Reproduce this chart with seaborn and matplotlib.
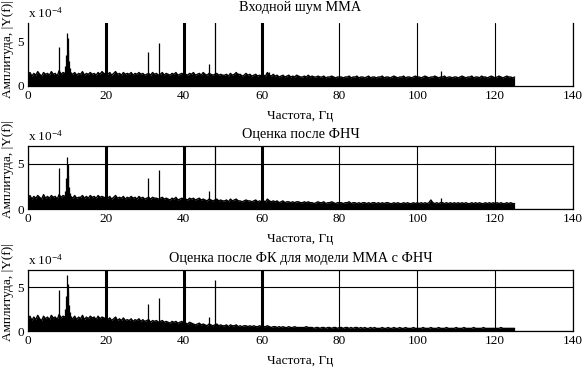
import numpy as np
import pandas as pd
import matplotlib
matplotlib.use("Agg")
import matplotlib.pyplot as plt
import seaborn as sns

# ---------------- data (amplitudes in units of 1e-4) ----------------
titles = ["Входной шум ММА", "Оценка после ФНЧ", "Оценка после ФК для модели ММА с ФНЧ"]
xlabel = "Частота, Гц"
ylabel = "Амплитуда, |Y(f)|"
x_ticks = [0, 20, 40, 60, 80, 100, 120, 140]
y_ticks = [0, 5]

# noise floor, tenths of 1e-4, sampled every 0.5 Hz from 0 to 125 Hz
noise_in = [
    13, 15, 11, 14, 12, 16, 13, 11, 15, 13, 14, 12, 16, 13, 14, 11, 17, 13, 15, 14, 16,
    17, 14, 13, 15, 12, 14, 13, 16, 12, 14, 13, 15, 13, 14, 12, 15, 13, 16, 14, 13,
    13, 15, 12, 14, 16, 13, 14, 12, 15, 13, 14, 13, 15, 12, 14, 13, 15, 13, 14, 12,
    13, 14, 12, 15, 13, 14, 12, 13, 15, 12, 14, 13, 12, 14, 13, 15, 12, 13, 14, 13,
    13, 12, 14, 13, 15, 12, 13, 14, 12, 15, 13, 12, 14, 13, 12, 13, 14, 12, 13, 12,
    12, 13, 11, 14, 12, 13, 15, 12, 13, 11, 12, 14, 12, 13, 11, 12, 13, 11, 12, 11,
    12, 11, 15, 12, 11, 13, 11, 12, 10, 11, 12, 10, 11, 12, 10, 11, 10, 12, 11, 10,
    10, 11, 10, 12, 10, 11, 10, 10, 11, 10, 10, 11, 9, 10, 10, 11, 10, 9, 10, 10,
    10, 9, 10, 10, 11, 9, 10, 10, 11, 9, 10, 10, 9, 10, 11, 9, 10, 10, 9, 10,
    10, 11, 9, 10, 10, 9, 10, 11, 10, 9, 10, 10, 11, 9, 10, 10, 9, 10, 11, 10,
    10, 9, 10, 11, 10, 9, 10, 10, 11, 10, 9, 10, 10, 11, 9, 10, 10, 9, 10, 10,
    9, 10, 11, 10, 9, 10, 10, 11, 9, 10, 10, 9, 11, 10, 10, 9, 10, 11, 10, 9,
    10, 11, 10, 9, 10, 11, 10, 10, 9, 10,
]
noise_lpf = [
    12, 15, 11, 14, 12, 15, 13, 11, 16, 12, 14, 12, 15, 13, 14, 11, 16, 13, 15, 14, 16,
    16, 14, 12, 15, 12, 13, 13, 15, 12, 14, 12, 15, 13, 14, 12, 15, 13, 14, 13, 12,
    12, 14, 11, 13, 15, 12, 13, 12, 14, 11, 13, 12, 14, 12, 13, 11, 14, 12, 13, 11,
    12, 13, 11, 13, 12, 12, 11, 12, 13, 11, 12, 11, 10, 12, 11, 13, 10, 11, 12, 11,
    11, 10, 12, 11, 12, 10, 11, 12, 10, 11, 10, 9, 11, 10, 9, 10, 11, 9, 10, 9,
    9, 10, 8, 11, 9, 10, 11, 9, 9, 8, 9, 10, 9, 9, 8, 9, 10, 8, 9, 8,
    9, 8, 11, 9, 8, 9, 8, 9, 7, 8, 9, 7, 8, 8, 7, 8, 7, 8, 8, 7,
    7, 8, 7, 8, 7, 7, 6, 7, 8, 7, 7, 8, 6, 7, 7, 8, 7, 6, 7, 7,
    7, 6, 7, 7, 8, 6, 7, 7, 6, 7, 6, 7, 7, 6, 7, 6, 7, 7, 6, 7,
    6, 7, 6, 7, 7, 6, 6, 7, 6, 7, 6, 6, 7, 6, 7, 6, 6, 7, 6, 7,
    6, 7, 6, 7, 6, 7, 10, 7, 6, 7, 6, 7, 7, 6, 7, 6, 7, 6, 7, 6,
    7, 6, 7, 6, 7, 6, 6, 7, 6, 7, 6, 7, 6, 6, 7, 6, 7, 6, 7, 6,
    7, 6, 7, 6, 6, 7, 6, 7, 6, 6,
]
noise_kf = [
    14, 17, 12, 16, 13, 18, 14, 12, 17, 14, 16, 13, 18, 15, 16, 13, 19, 15, 17, 16, 18,
    18, 15, 14, 17, 13, 16, 14, 18, 13, 16, 14, 17, 15, 16, 13, 17, 14, 16, 15, 14,
    13, 15, 12, 14, 16, 12, 14, 12, 15, 12, 13, 12, 14, 11, 13, 12, 14, 11, 13, 11,
    12, 13, 10, 12, 11, 12, 10, 11, 12, 10, 11, 10, 9, 11, 10, 11, 9, 10, 11, 9,
    9, 8, 10, 9, 8, 7, 8, 9, 7, 8, 7, 6, 8, 7, 6, 7, 8, 6, 7, 6,
    6, 7, 5, 7, 6, 6, 7, 5, 6, 5, 6, 6, 5, 6, 5, 6, 5, 5, 6, 5,
    5, 5, 6, 5, 4, 5, 5, 4, 5, 4, 5, 4, 4, 5, 4, 4, 5, 4, 4, 4,
    4, 4, 5, 4, 4, 4, 3, 4, 4, 3, 4, 4, 3, 4, 4, 3, 4, 4, 3, 4,
    4, 3, 4, 4, 3, 4, 3, 4, 4, 3, 4, 3, 4, 3, 3, 4, 3, 4, 3, 3,
    3, 4, 3, 3, 4, 3, 3, 4, 3, 3, 4, 3, 3, 4, 3, 3, 3, 4, 3, 3,
    3, 3, 4, 3, 3, 3, 4, 3, 3, 3, 4, 3, 3, 3, 4, 3, 3, 3, 3, 4,
    3, 3, 3, 4, 3, 3, 3, 3, 4, 3, 3, 3, 3, 4, 3, 3, 3, 3, 3, 3,
    3, 3, 4, 3, 3, 3, 3, 3, 3, 3,
]

# narrow spectral lines (frequency Hz, amplitude 1e-4); values above 7 are clipped
spike_f_in = [8.0, 9.6, 9.8, 10.0, 10.2, 10.4, 10.6, 10.8, 11.0, 20.0, 30.8, 33.7, 40.0, 46.5, 48.0, 54.0, 60.0, 62.0, 106.0]
spike_a_in = [4.3, 2.2, 3.5, 5.9, 5.3, 4.0, 2.8, 2.0, 1.6, 9.0, 3.8, 4.8, 9.0, 2.5, 9.0, 1.5, 9.0, 1.6, 1.7]
spike_f_lpf = [8.0, 9.6, 9.8, 10.0, 10.2, 10.4, 10.6, 10.8, 20.0, 30.8, 33.7, 40.0, 46.5, 48.0, 60.0, 106.0]
spike_a_lpf = [4.6, 2.0, 3.5, 5.8, 5.0, 3.8, 2.5, 1.8, 9.0, 3.5, 4.3, 9.0, 2.0, 9.0, 9.0, 1.2]
spike_f_kf = [8.0, 9.6, 9.8, 10.0, 10.2, 10.4, 10.6, 10.8, 11.0, 20.0, 30.8, 33.7, 40.0, 46.5, 48.0, 60.0]
spike_a_kf = [4.7, 2.5, 4.0, 6.4, 5.4, 4.5, 3.0, 2.2, 1.7, 9.0, 3.1, 3.8, 9.0, 1.6, 5.8, 9.0]

noises = [noise_in, noise_lpf, noise_kf]
spikes = [(spike_f_in, spike_a_in), (spike_f_lpf, spike_a_lpf), (spike_f_kf, spike_a_kf)]

# ---------------- style / layout ----------------
sns.set_theme(style="white")
plt.rcParams["font.family"] = ["Liberation Serif", "DejaVu Serif"]
plt.rcParams["mathtext.fontset"] = "custom"
plt.rcParams["mathtext.rm"] = "Liberation Serif"
plt.rcParams["mathtext.it"] = "Liberation Serif"

W, H = 585, 367
fig = plt.figure(figsize=(W / 100, H / 100), dpi=100)

left_px, right_px = 28, 573
panels_px = [(23, 86), (146, 209), (270, 331)]  # top, bottom
title_pad = [8.5, 6.0, 5.5]
ylabel_y = [0.585, 0.64, 0.64]
thick_lines = {20.0, 40.0, 60.0}
fs = 9

for i, (top, bot) in enumerate(panels_px):
    ax = fig.add_axes([left_px / W, 1 - bot / H, (right_px - left_px) / W, (bot - top) / H])
    noise = np.array(noises[i]) / 10.0
    freq = np.arange(len(noise)) * 0.5
    df = pd.DataFrame({"f": freq, "a": noise})
    ax.fill_between(df["f"], 0, df["a"], color="black", lw=0, zorder=3)
    sns.lineplot(data=df, x="f", y="a", color="black", lw=1.0, ax=ax, zorder=3)
    sf, sa = spikes[i]
    for f, a in zip(sf, sa):
        ax.vlines(f, 0, a, color="black", lw=2.2 if f in thick_lines else 0.9, zorder=4)

    ax.set_xlim(0, 140)
    ax.set_ylim(0, 7)
    ax.set_xticks(x_ticks)
    ax.set_yticks(y_ticks)
    ax.tick_params(axis="both", length=0, labelsize=fs + 0.5, colors="black", pad=3)
    ax.grid(True, axis="x" if i == 0 else "both", color="black", lw=0.8, zorder=1)
    for s in ax.spines.values():
        s.set_color("black")
        s.set_linewidth(0.9)
    if i == 0:
        ax.spines["top"].set_visible(False)

    ax.set_title(titles[i], fontsize=fs + 1.3, pad=title_pad[i], color="black")
    ax.set_xlabel(xlabel, fontsize=fs + 0.5, color="black", labelpad=5.5)
    ax.set_ylabel(ylabel, fontsize=fs + 0.5, color="black")
    ax.yaxis.set_label_coords(-0.026, ylabel_y[i])
    ax.text(0.0, 1.04, r"x 10$^{-4}$", transform=ax.transAxes, fontsize=fs + 0.5,
            ha="left", va="bottom", color="black")

fig.savefig("out.png", dpi=100, facecolor="white")
